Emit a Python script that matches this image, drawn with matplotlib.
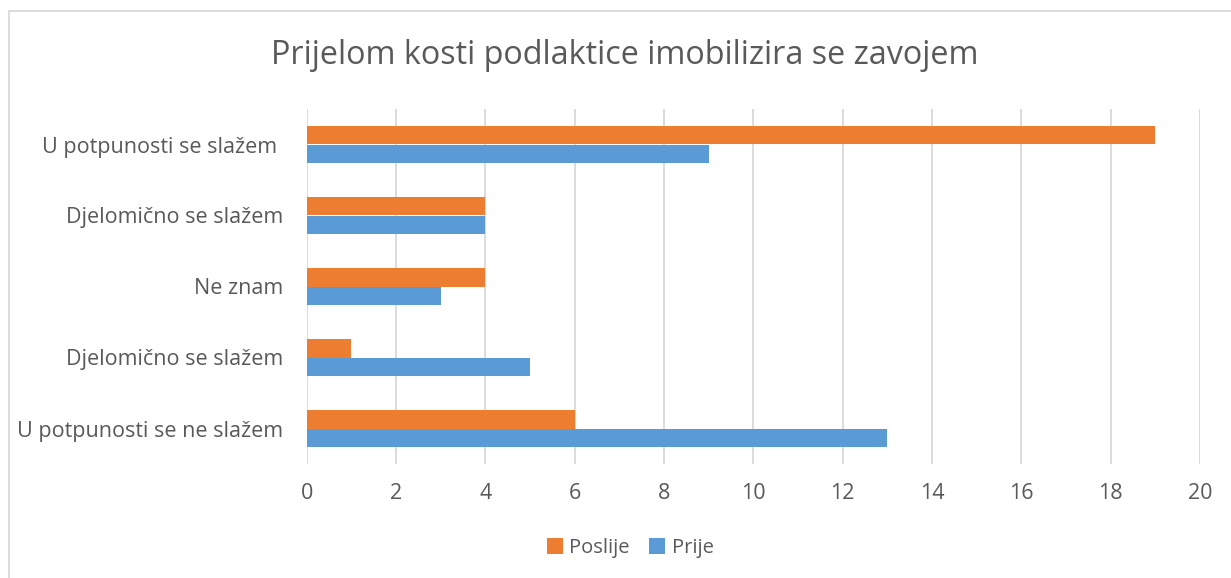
import matplotlib
matplotlib.use('Agg')
import matplotlib.pyplot as plt
from matplotlib.patches import Rectangle
import numpy as np

categories = ['U potpunosti se slažem ', 'Djelomično se slažem', 'Ne znam',
              'Djelomično se slažem', 'U potpunosti se ne slažem']
poslije = [19, 4, 4, 1, 6]
prije = [9, 4, 3, 5, 13]
xticks = [0, 2, 4, 6, 8, 10, 12, 14, 16, 18, 20]

text_color = '#595959'
grid_color = '#D9D9D9'
orange = '#ED7D31'
blue = '#5B9BD5'

plt.rcParams['font.family'] = ['Open Sans', 'DejaVu Sans']

fig = plt.figure(figsize=(12.31, 5.78), dpi=100)
ax = fig.add_axes([306.6 / 1231, 1 - 464 / 578, (1200 - 306.6) / 1231, 355 / 578])

y = np.arange(len(categories))
h = 0.255
ax.barh(y - h / 2, poslije, height=h, color=orange, label='Poslije', zorder=3)
ax.barh(y + h / 2, prije, height=h, color=blue, label='Prije', zorder=3)

ax.set_ylim(len(categories) - 0.5, -0.5)
ax.set_xlim(0, 20)
ax.set_xticks(xticks)
ax.set_yticks(y)
ax.set_yticklabels(categories)
ax.xaxis.grid(True, color=grid_color, linewidth=1.3, zorder=0)
for s in ax.spines.values():
    s.set_visible(False)
ax.tick_params(axis='both', length=0, colors=text_color, labelsize=15.5)
ax.tick_params(axis='x', pad=14)
ax.tick_params(axis='y', pad=17)

fig.text(625 / 1231, 1 - 55 / 578, 'Prijelom kosti podlaktice imobilizira se zavojem',
         ha='center', va='center', fontsize=23.3, color=text_color)

handles, labels = ax.get_legend_handles_labels()
leg = fig.legend(handles, labels, loc='center', bbox_to_anchor=(630 / 1231, 1 - 548 / 578),
                 ncol=2, frameon=False, fontsize=14.5, handlelength=0.8, handleheight=0.8,
                 handletextpad=0.3, columnspacing=1.0)
for t in leg.get_texts():
    t.set_color(text_color)

fig.patches.append(Rectangle((9 / 1231, -0.1), 1.2, 1 - 11 / 578 + 0.1,
                             transform=fig.transFigure, fill=False,
                             edgecolor=grid_color, linewidth=1.3))

fig.savefig('out.png', dpi=100)
